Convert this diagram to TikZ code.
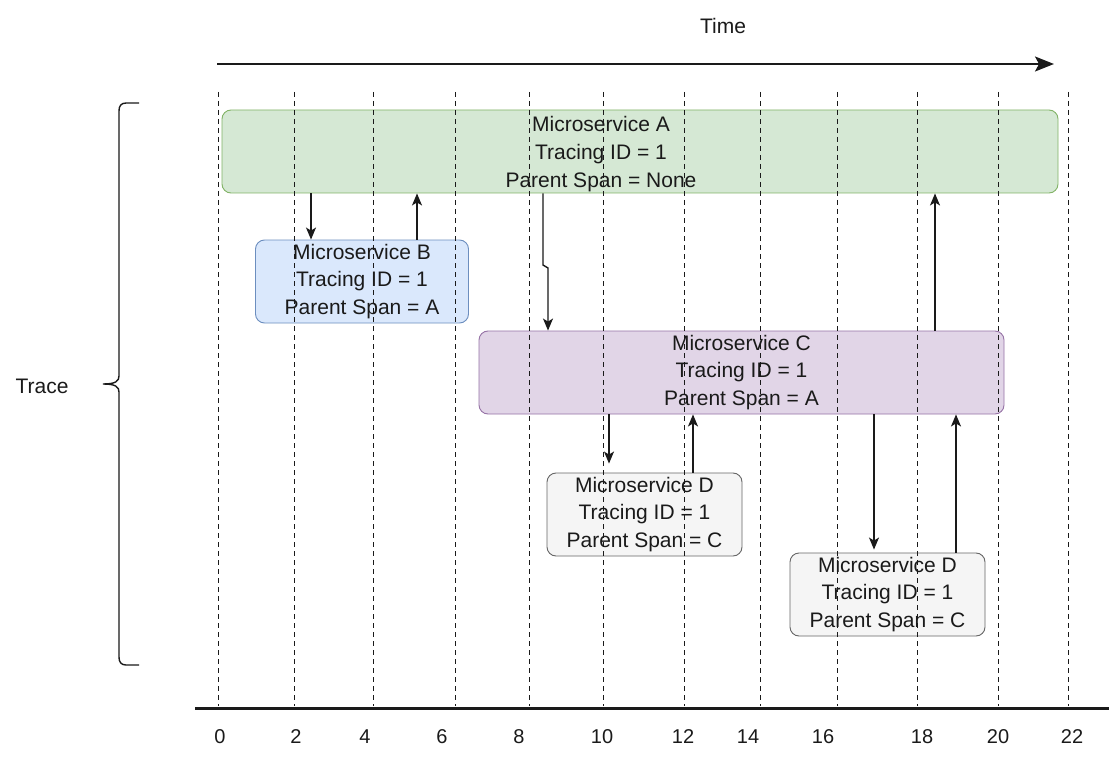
\documentclass[tikz,border=0pt]{standalone}
\usepackage{fontspec}
\setmainfont{Liberation Sans}
\usetikzlibrary{arrows.meta}

\definecolor{spanAfill}{HTML}{D5E8D4}
\definecolor{spanAline}{HTML}{82B366}
\definecolor{spanBfill}{HTML}{DAE8FC}
\definecolor{spanBline}{HTML}{6C8EBF}
\definecolor{spanCfill}{HTML}{E1D5E7}
\definecolor{spanCline}{HTML}{9673A6}
\definecolor{spanDfill}{HTML}{F5F5F5}
\definecolor{spanDline}{HTML}{666666}
\definecolor{ink}{HTML}{1A1A1A}

\tikzset{
  txt/.style={font=\fontsize{21}{28}\selectfont, text=ink, align=center, inner sep=0pt},
  ticklabel/.style={font=\fontsize{20}{24}\selectfont, text=ink, inner sep=0pt},
  spanbox/.style={draw, rounded corners=9pt, line width=0.9pt, inner sep=0pt,
    font=\fontsize{21}{27.5}\selectfont, text=ink, align=center},
  flow/.style={draw=ink, line width=1.4pt, -{Stealth[length=12pt,width=10pt,inset=3pt]}},
  grid/.style={draw=ink, line width=0.9pt, dash pattern=on 5pt off 4pt},
}

\begin{document}
\begin{tikzpicture}[x=1pt,y=-1pt]
\useasboundingbox[fill=white] (0,0) rectangle (1109,773);

% time arrow
\node[txt] (time) at (723,26) {Time};
\coordinate (tstart) at (217,64);
\coordinate (tend) at (1054,64);
\draw[draw=ink, line width=1.5pt, -{Stealth[length=19pt,width=15pt,inset=4pt]}] (tstart) -- (tend);

% spans
\node[spanbox, fill=spanAfill, draw=spanAline, minimum width=836pt, minimum height=83pt] (A) at (640,151.5) {};
\node[txt, font=\fontsize{21}{28}\selectfont] (Atext) at (601,154) {Microservice A\\Tracing ID = 1\\Parent Span = None};

\node[spanbox, fill=spanBfill, draw=spanBline, minimum width=213pt, minimum height=83pt] (B) at (362,281.5)
  {Microservice B\\Tracing ID = 1\\Parent Span = A};

\node[spanbox, fill=spanCfill, draw=spanCline, minimum width=525pt, minimum height=83pt] (C) at (741.5,372.5)
  {Microservice C\\Tracing ID = 1\\Parent Span = A};

\node[spanbox, fill=spanDfill, draw=spanDline, minimum width=195pt, minimum height=83pt] (D1) at (644.5,514.5)
  {Microservice D\\Tracing ID = 1\\Parent Span = C};

\node[spanbox, fill=spanDfill, draw=spanDline, minimum width=195pt, minimum height=83pt] (D2) at (887.5,594.5)
  {Microservice D\\Tracing ID = 1\\Parent Span = C};

% calls and returns
\draw[flow] (311,0 |- A.south) -- (311,0 |- B.north);
\draw[flow] (417,0 |- B.north) -- (417,0 |- A.south);
\draw[flow] (543,0 |- A.south) -- (543,265) -- (548,268) -- (548,0 |- C.north);
\draw[flow, shorten >=9pt] (609,0 |- C.south) -- (609,0 |- D1.north);
\draw[flow] (693,0 |- D1.north) -- (693,0 |- C.south);
\draw[flow, shorten >=3pt] (874,0 |- C.south) -- (874,0 |- D2.north);
\draw[flow] (956,0 |- D2.north) -- (956,0 |- C.south);
\draw[flow] (935,0 |- C.north) -- (935,0 |- A.south);

% time grid and axis
\foreach \x/\lx/\t in {218/220/0, 294/296/2, 373/365/4, 455/442/6, 529/519/8, 603/602/10,
                      684/683/12, 760/748/14, 837/823/16, 917/922/18, 998/998/20, 1068/1072/22} {
  \draw[grid] (\x,92) -- (\x,706);
  \node[ticklabel] (tick\t) at (\lx,737) {\t};
}
\draw[draw=ink, line width=3pt] (195,708) -- (1109,708);

% trace brace
\node[txt] (trace) at (42,386) {Trace};
\draw[draw=ink, line width=1.4pt]
  (139,103) -- (126,103) .. controls (121,103) and (119,106) .. (119,111)
  -- (119,376) .. controls (119,381) and (116,384) .. (103,384)
  .. controls (116,384) and (119,387) .. (119,392)
  -- (119,657) .. controls (119,662) and (121,665) .. (126,665) -- (139,665);
\end{tikzpicture}
\end{document}
